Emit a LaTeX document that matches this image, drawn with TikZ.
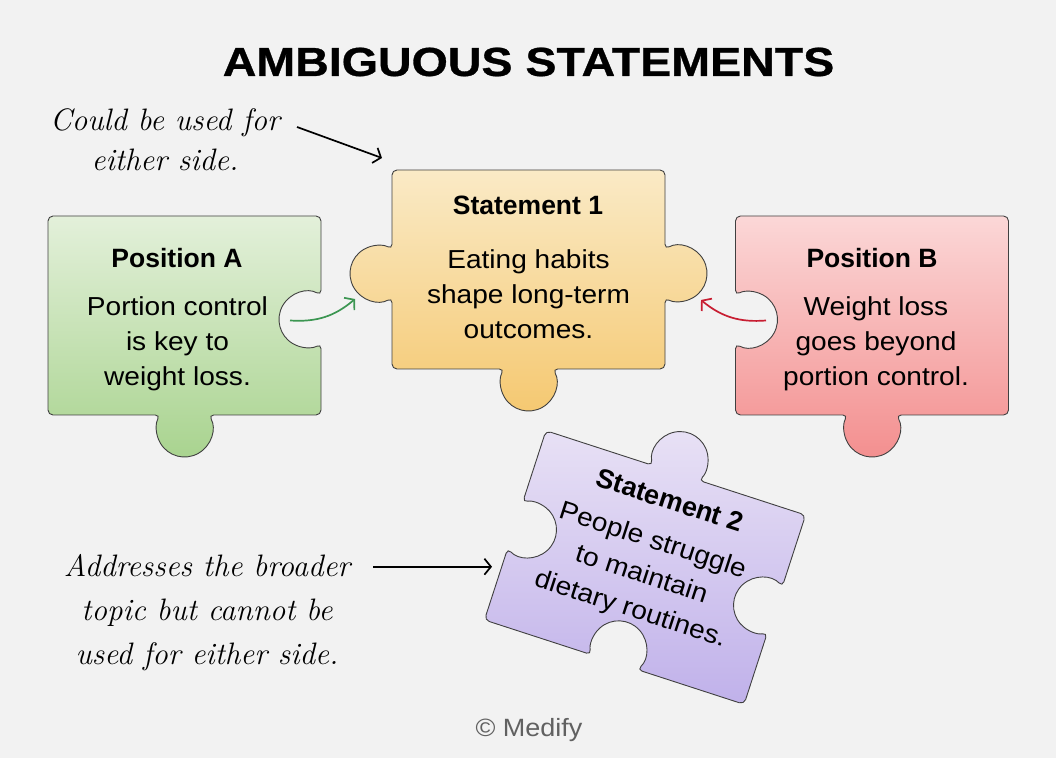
\documentclass[tikz,border=0pt]{standalone}
\usepackage{fontspec}
\newfontfamily\headfont{Liberation Sans}
\newfontfamily\bodyfont{Liberation Sans}[FakeStretch=1.08]
\newfontfamily\titlefont{Liberation Sans}[FakeStretch=1.15,FakeBold=0.8]
\usetikzlibrary{arrows.meta,positioning}

\definecolor{bgcol}{RGB}{242,242,242}
\definecolor{greenT}{RGB}{227,240,218}
\definecolor{greenB}{RGB}{168,211,142}
\definecolor{yellowT}{RGB}{250,234,198}
\definecolor{yellowB}{RGB}{245,200,112}
\definecolor{redT}{RGB}{251,215,215}
\definecolor{redB}{RGB}{243,142,142}
\definecolor{purpleT}{RGB}{232,225,245}
\definecolor{purpleB}{RGB}{192,177,234}
\definecolor{arrowgreen}{RGB}{60,150,82}
\definecolor{arrowred}{RGB}{200,30,50}

% sides of a piece (half size 136.5 x 99.5, knob radius 28)
\def\pc{-4}
\newcommand{\sflat}{}
\newcommand{\stoptab}{-- (-24.25,99.5) arc[start angle=210,end angle=-30,radius=28]}
\newcommand{\srtab}{-- (136.5,{\pc+24.25}) arc[start angle=120,end angle=-120,radius=28]}
\newcommand{\srhole}{-- (136.5,{\pc+24.25}) arc[start angle=60,end angle=300,radius=28]}
\newcommand{\sbtab}{-- (24.25,-99.5) arc[start angle=30,end angle=-210,radius=28]}
\newcommand{\sbhole}{-- (24.25,-99.5) arc[start angle=-30,end angle=210,radius=28]}
\newcommand{\sltab}{-- (-136.5,{\pc-24.25}) arc[start angle=-60,end angle=-300,radius=28]}
\newcommand{\slhole}{-- (-136.5,{\pc-24.25}) arc[start angle=-120,end angle=120,radius=28]}

\tikzset{
  piece/.style={draw=black!75, line width=0.9pt, rounded corners=5pt},
  head/.style={font=\headfont\bfseries\fontsize{26.5}{32}\selectfont, anchor=base, inner sep=0pt},
  body/.style={font=\bodyfont\fontsize{26}{35}\selectfont, align=center, inner sep=0pt},
  hand/.style={font=\itshape\fontsize{31}{40}\selectfont, align=center, inner sep=0pt},
  note arrow/.style={-{Straight Barb[length=6.5pt,width=16pt]}, line width=1.7pt},
}

\begin{document}
\begin{tikzpicture}[x=1pt,y=1pt]
  \fill[bgcol] (0,0) rectangle (1056,758);
  \useasboundingbox (0,0) rectangle (1056,758);

  \node[font=\titlefont\bfseries\fontsize{40.5}{48}\selectfont, inner sep=0pt] (title) at (528.5,696) {AMBIGUOUS STATEMENTS};

  % the three upright pieces
  \foreach \x/\y/\st/\sr/\sb/\sl/\ct/\cb in {184.5/442.5/\sflat/\srhole/\sbtab/\sflat/greenT/greenB,
      528.5/488.5/\sflat/\srtab/\sbtab/\sltab/yellowT/yellowB,
      872/442.5/\sflat/\sflat/\sbtab/\slhole/redT/redB}
  {
    \draw[piece, top color=\ct, bottom color=\cb, shift={(\x,\y)}]
      (-136.5,99.5) \st -- (136.5,99.5) \sr -- (136.5,-99.5) \sb -- (-136.5,-99.5) \sl -- cycle;
  }

  \node[head] (posA-t) at (177,490) {Position A};
  \node[body] (posA-b) at (177.5,414.5) {Portion control\\is key to\\weight loss.};

  \node[head] (st1-t) at (528,543) {Statement 1};
  \node[body] (st1-b) at (528.5,464) {Eating habits\\shape long-term\\outcomes.};

  \node[head] (posB-t) at (872,490) {Position B};
  \node[body] (posB-b) at (876,414.5) {Weight loss\\goes beyond\\portion control.};

  % the piece that does not fit
  \begin{scope}[shift={(645,190.5)}, rotate=-18, transform shape]
    \def\pc{0}
    \draw[piece, top color=purpleT, bottom color=purpleB]
      (-136.5,99.5) \stoptab -- (136.5,99.5) \srhole -- (136.5,-99.5) \sbhole -- (-136.5,-99.5) \slhole -- cycle;
    \node[head, font=\headfont\bfseries\fontsize{27}{32}\selectfont] (st2-t) at (3,62.5) {Statement 2};
    \node[body, font=\bodyfont\fontsize{26}{36}\selectfont] (st2-b) at (-1,-9) {People struggle\\to maintain\\dietary routines.};
  \end{scope}

  % notes
  \node[hand] (note1) at (165,618) {Could be used for\\either side.};
  \node[hand, font=\itshape\fontsize{31}{44}\selectfont] (note2) at (207,145.5) {Addresses the broader\\topic but cannot be\\used for either side.};

  \coordinate (n1s) at (297,631);
  \coordinate (n1e) at (382,600);
  \coordinate (n2s) at (373,191.3);
  \coordinate (n2e) at (492,191.3);
  \coordinate (ga) at (290,437.5);
  \coordinate (gb) at (355,459);
  \coordinate (ra) at (766,437.5);
  \coordinate (rb) at (701,458);

  \draw[note arrow] (n1s) -- (n1e);
  \draw[note arrow] (n2s) -- (n2e);
  \draw[note arrow, arrowgreen] (ga) to[bend right=22] (gb);
  \draw[note arrow, arrowred] (ra) to[bend left=22] (rb);

  \node[font=\bodyfont\fontsize{25}{30}\selectfont, text=black!62, anchor=base, inner sep=0pt] (credit) at (529,21.3) {\textcopyright{} Medify};
\end{tikzpicture}
\end{document}
